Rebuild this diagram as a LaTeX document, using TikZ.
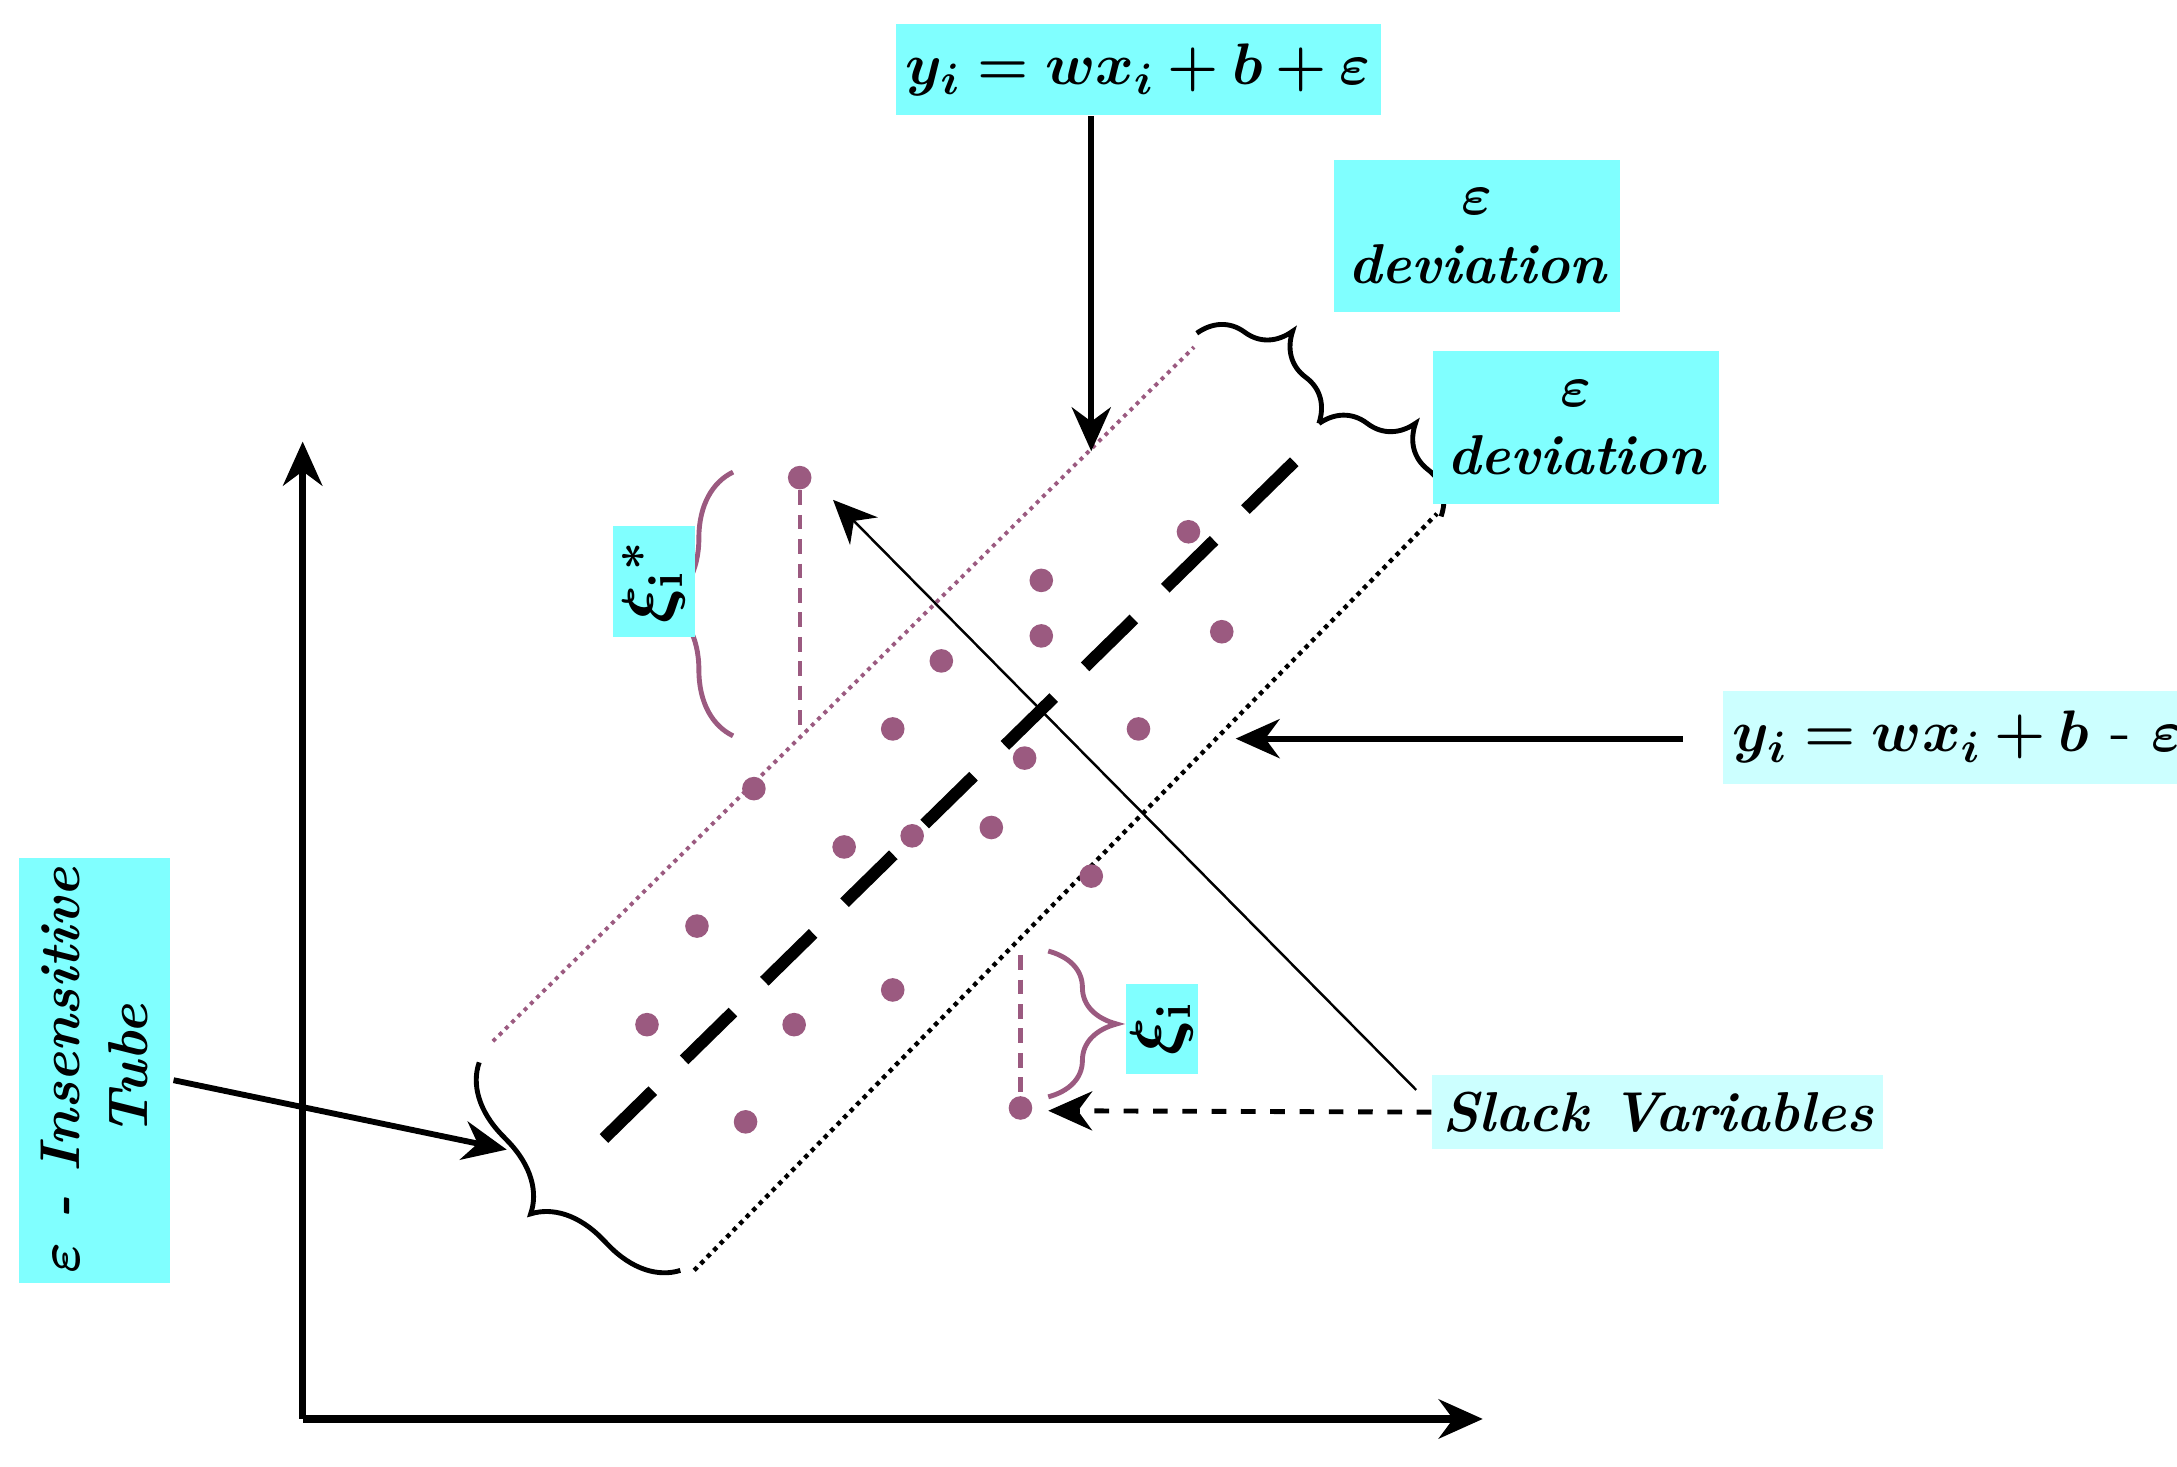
\documentclass[tikz,border=0pt]{standalone}
\usepackage{amsmath,amssymb}
\usepackage{bm}
\usetikzlibrary{decorations.pathreplacing,arrows.meta}
\definecolor{cy}{HTML}{80FFFF}
\definecolor{lcy}{HTML}{CCFFFF}
\definecolor{pur}{HTML}{9B5A80}
\begin{document}
\begin{tikzpicture}[x=0.01cm,y=-0.01cm,
 lab/.style={fill=cy,font=\bfseries\itshape\fontsize{11.5}{14}\selectfont,inner sep=2pt,align=center},
 llab/.style={lab,fill=lcy},
 dot/.style={circle,fill=pur,inner sep=0pt,minimum size=0.17cm},
 arr/.style={-{Stealth[length=9pt,width=8pt]},line width=1.2pt},
 br/.style={decorate,decoration={brace,amplitude=12pt},line width=1pt}]
\useasboundingbox (0,0) rectangle (1568,1056);
% axes
\coordinate (o) at (218,1022); \coordinate (ya) at (218,318); \coordinate (xa) at (1068,1022);
\draw[arr,line width=1.5pt] (o) -- (ya);
\draw[arr,line width=1.5pt] (o) -- (xa);
% tube
\coordinate (u1) at (355,750); \coordinate (u2) at (860,250);
\coordinate (l1) at (500,915); \coordinate (l2) at (1035,370);
\draw[pur,densely dotted,line width=0.8pt] (u1) -- (u2);
\draw[densely dotted,line width=0.9pt] (l1) -- (l2);
\draw[line width=2.5pt,dash pattern=on 14pt off 9pt] (435,820) -- (945,320);
\coordinate (b1) at (862,240); \coordinate (b2) at (950,305); \coordinate (b3) at (1038,372);
\draw[br] (b1) -- (b2);
\draw[br] (b2) -- (b3);
\coordinate (c1) at (490,915); \coordinate (c2) at (345,765);
\draw[br,decoration={brace,amplitude=14pt}] (c1) -- (c2);
% dots
\foreach \p [count=\i] in {(576,344),(856,383),(750,418),(750,458),(880,455),(678,476),(643,525),(820,525),(738,546),(543,568),(608,610),(657,602),(714,596),(786,631),(502,667),(643,713),(466,738),(572,738),(537,808),(735,798)}
  \node[dot] (d\i) at \p {};
% xi*
\draw[pur,densely dashed,line width=0.9pt] (d1) -- (576,528);
\draw[br,pur,decoration={brace,amplitude=14pt}] (528,530) -- (528,340);
\node[lab,rotate=90,minimum width=0.8cm,minimum height=0.57cm,font=\fontsize{14}{16}\selectfont] (xs) at (471,419) {$\bm{\xi}_{\mathbf i}{}^{\bm *}$};
% xi
\draw[pur,densely dashed,line width=0.9pt] (735,688) -- (d20);
\draw[br,pur,decoration={brace,amplitude=14pt}] (755,685) -- (755,790);
\node[lab,rotate=90,minimum width=0.65cm,minimum height=0.35cm,inner sep=1pt,font=\fontsize{14}{16}\selectfont] (xi) at (837,741) {$\bm{\xi}_{\mathbf i}$};
% labels
\node[lab,minimum width=2.95cm,minimum height=0.66cm,font=\fontsize{13}{15}\selectfont] (top) at (820,50) {$\bm{y_i = wx_i + b + \varepsilon}$};
\coordinate (tt) at (786,325);
\draw[arr] (top.south -| tt) -- (tt);
\node[lab,minimum width=2.06cm,minimum height=1.1cm] (e1) at (1064,170) {$\bm\varepsilon$\\deviation};
\node[lab,minimum width=2.06cm,minimum height=1.1cm] (e2) at (1135,308) {$\bm\varepsilon$\\deviation};
\node[llab,minimum width=2.88cm,minimum height=0.67cm,font=\fontsize{13}{15}\selectfont] (bot) at (1410,531) {$\bm{y_i = wx_i + b}$ - $\bm{\varepsilon}$};
\coordinate (bt) at (890,532);
\draw[arr] (1212,532) -- (bt);
\node[llab,minimum width=3.05cm,minimum height=0.53cm] (sv) at (1194,801) {Slack Variables};
\coordinate (svt) at (755,800);
\draw[arr,dashed,line width=1pt] (sv.west) -- (svt);
\coordinate (xst) at (600,360);
\draw[-{Stealth[length=9pt,width=8pt]},line width=0.5pt] (1020,785) -- (xst);
\node[lab,rotate=90,minimum width=2.68cm,minimum height=1.09cm] (tube) at (68,771) {$\bm\varepsilon$ - Insensitive\\Tube};
\coordinate (tbt) at (365,828);
\draw[arr] (125,778) -- (tbt);
\end{tikzpicture}
\end{document}
